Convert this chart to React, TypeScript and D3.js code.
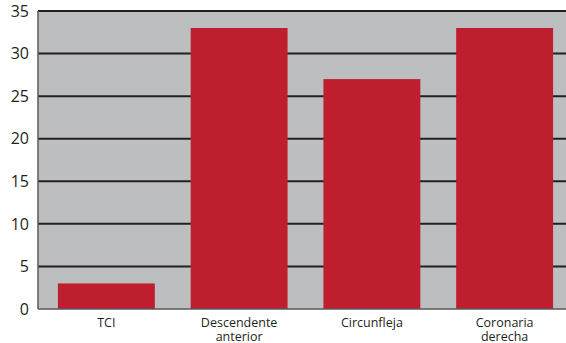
import * as React from 'react';
import { useRef, useEffect } from 'react';
import * as d3 from 'd3';

const categories: string[][] = [['TCI'], ['Descendente', 'anterior'], ['Circunfleja'], ['Coronaria', 'derecha']];
const values: number[] = [3, 33, 27, 33];
const yTicks: number[] = [0, 5, 10, 15, 20, 25, 30, 35];

const W = 566;
const H = 343;

export default function App() {
  const svgRef = useRef<SVGSVGElement | null>(null);

  useEffect(() => {
    if (!svgRef.current) return;
    const svg = d3.select(svgRef.current);
    svg.selectAll('*').remove();

    const margin = { top: 11, right: 0, bottom: 34, left: 38 };
    const bottom = H - margin.bottom;

    const keys = categories.map(c => c.join(' '));
    const x = d3.scaleBand<string>()
      .domain(keys)
      .range([margin.left, 573])
      .paddingInner(0.27)
      .paddingOuter(0.15);
    const y = d3.scaleLinear().domain([0, 35]).range([bottom, margin.top]);

    // plot background
    svg.append('rect')
      .attr('x', margin.left)
      .attr('y', margin.top)
      .attr('width', W - margin.left)
      .attr('height', bottom - margin.top)
      .attr('fill', '#bcbec0');

    // grid lines
    svg.append('g')
      .selectAll('line')
      .data(yTicks.filter(t => t > 0))
      .join('line')
      .attr('x1', margin.left)
      .attr('x2', W)
      .attr('y1', d => y(d))
      .attr('y2', d => y(d))
      .attr('stroke', '#231f20')
      .attr('stroke-width', 2);

    // bars
    svg.append('g')
      .selectAll('rect')
      .data(values)
      .join('rect')
      .attr('x', (_, i) => x(keys[i]) as number)
      .attr('y', d => y(d))
      .attr('width', x.bandwidth())
      .attr('height', d => bottom - y(d))
      .attr('fill', '#be1e2d');

    // axes lines
    svg.append('line')
      .attr('x1', margin.left).attr('x2', margin.left)
      .attr('y1', margin.top).attr('y2', bottom)
      .attr('stroke', '#58595b').attr('stroke-width', 1.5);
    svg.append('line')
      .attr('x1', margin.left).attr('x2', W)
      .attr('y1', bottom).attr('y2', bottom)
      .attr('stroke', '#58595b').attr('stroke-width', 1.5);

    // y tick labels
    svg.append('g')
      .selectAll('text')
      .data(yTicks)
      .join('text')
      .attr('x', 29)
      .attr('y', d => y(d))
      .attr('dy', '0.36em')
      .attr('text-anchor', 'end')
      .attr('font-family', '"Open Sans", sans-serif')
      .attr('font-size', 16)
      .attr('fill', '#231f20')
      .text(d => d);

    // x labels (two-line ones wrap like the original)
    const xl = svg.append('g')
      .selectAll('text')
      .data(categories)
      .join('text')
      .attr('x', (_, i) => (x(keys[i]) as number) + x.bandwidth() / 2)
      .attr('y', bottom + 18)
      .attr('text-anchor', 'middle')
      .attr('font-family', '"Open Sans", sans-serif')
      .attr('font-size', 12.5)
      .attr('fill', '#231f20');
    xl.selectAll('tspan')
      .data(d => d)
      .join('tspan')
      .attr('x', function () {
        return (this.parentNode as SVGTextElement).getAttribute('x');
      })
      .attr('dy', (_, i) => (i === 0 ? 0 : 14))
      .text(d => d);
  }, []);

  return (
    <div style={{ position: 'absolute', left: 0, top: 0, width: W, height: H, background: '#fff' }}>
      <svg ref={svgRef} width={W} height={H} style={{ display: 'block' }} />
    </div>
  );
}
